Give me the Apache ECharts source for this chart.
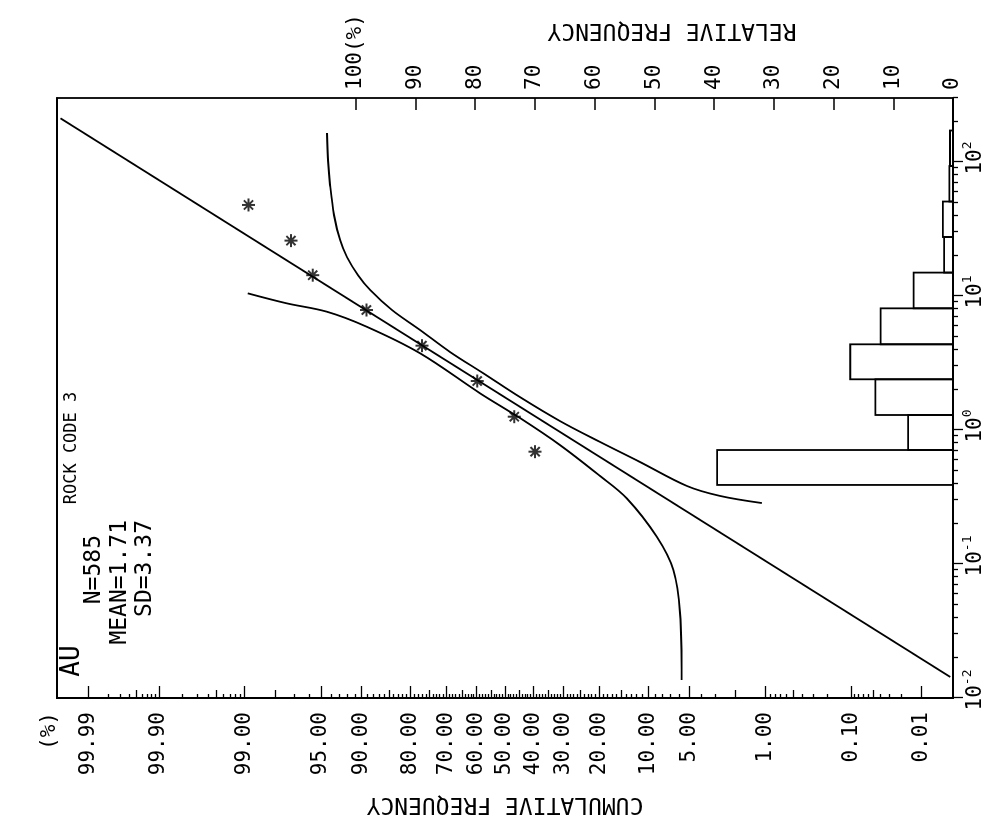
<!DOCTYPE html>
<html><head><meta charset="utf-8">
<script src="https://cdn.jsdelivr.net/npm/echarts@6/dist/echarts.min.js"></script>
<style>
html,body{margin:0;padding:0;background:#fff;overflow:hidden;width:1007px;height:829px;}
#chart{position:absolute;left:89px;top:-89px;width:829px;height:1007px;transform:rotate(-90deg);transform-origin:50% 50%;}
</style></head><body><div id="chart"></div>
<script>
// ---------------- data ----------------
const probLabelValues = [99.99, 99.9, 99, 95, 90, 80, 70, 60, 50, 40, 30, 20, 10, 5, 1, 0.1, 0.01];
const probLabelTexts  = ['99.99','99.90','99.00','95.00','90.00','80.00','70.00','60.00','50.00','40.00','30.00','20.00','10.00','5.00','1.00','0.10','0.01'];
const probMediumTicks = [99.95, 99.5, 98, 85, 75, 65, 55, 45, 35, 25, 15, 2, 0.5, 0.05];
const relLabelValues  = [0, 10, 20, 30, 40, 50, 60, 70, 80, 90, 100];
const relLabelTexts   = ['0','10','20','30','40','50','60','70','80','90','100(%)'];
const logDecades      = [-2, -1, 0, 1, 2];

// histogram: class boundaries (concentration) and relative frequency (%)
const binEdges = [0.389, 0.709, 1.294, 2.39, 4.36, 8.09, 14.95, 27.56, 50.7, 93.3, 171.8];
const binFreq  = [39.5, 7.5, 13.0, 17.2, 12.1, 6.6, 1.5, 1.7, 0.6, 0.5];

// cumulative points (*): upper class boundary, cumulative %
const cumX = [0.689, 1.257, 2.32, 4.26, 7.86, 14.3, 25.9, 47.8];
const cumP = [39.4, 46.7, 59.8, 77.1, 89.2, 95.7, 97.2, 98.9];

// fitted log-normal line  [value, cumulative %]
const fitLine = [[211.8, 99.9964], [0.01435, 0.0035]];

// confidence curves [value, cumulative %]
const upperBand = [[164.6,94.40],[103.5,94.30],[67.4,94.09],[40.2,93.66],[26.2,92.96],[19.5,92.09],[14.3,90.53],[11.1,88.59],[7.86,84.35],[5.58,77.6],[3.82,68.8],[2.66,57.8],[1.76,44.7],[1.167,31.2],[0.814,19.8],[0.577,11.4],[0.382,5.21],[0.322,2.74],[0.285,1.09]];
const lowerBand = [[10.47,98.92],[8.82,97.44],[7.64,94.43],[5.90,89.16],[3.74,77.6],[1.879,58.8],[1.229,44.7],[0.773,31.2],[0.4535,19.8],[0.309,13.85],[0.160,8.78],[0.0902,6.64],[0.0431,5.91],[0.01362,5.73]];

// ---------------- helpers ----------------
function probit(p){
  const a=[-3.969683028665376e+01,2.209460984245205e+02,-2.759285104469687e+02,1.383577518672690e+02,-3.066479806614716e+01,2.506628277459239e+00];
  const b=[-5.447609879822406e+01,1.615858368580409e+02,-1.556989798598866e+02,6.680131188771972e+01,-1.328068155288572e+01];
  const c=[-7.784894002430293e-03,-3.223964580411365e-01,-2.400758277161838e+00,-2.549732539343734e+00,4.374664141464968e+00,2.938163982698783e+00];
  const d=[7.784695709041462e-03,3.224671290700398e-01,2.445134137142996e+00,3.754408661907416e+00];
  const pl=0.02425, ph=1-pl; let q,r;
  if(p<pl){q=Math.sqrt(-2*Math.log(p));return (((((c[0]*q+c[1])*q+c[2])*q+c[3])*q+c[4])*q+c[5])/((((d[0]*q+d[1])*q+d[2])*q+d[3])*q+1);}
  if(p<=ph){q=p-0.5;r=q*q;return (((((a[0]*r+a[1])*r+a[2])*r+a[3])*r+a[4])*r+a[5])*q/(((((b[0]*r+b[1])*r+b[2])*r+b[3])*r+b[4])*r+1);}
  q=Math.sqrt(-2*Math.log(1-p));return -(((((c[0]*q+c[1])*q+c[2])*q+c[3])*q+c[4])*q+c[5])/((((d[0]*q+d[1])*q+d[2])*q+d[3])*q+1);
}
const zp = p => probit(p/100);
const lg = v => Math.log10(v);

// minor ticks of probability paper
const probMinorTicks = [];
[[99.91,99.99,0.01],[99.1,99.9,0.1],[96,97,1],[91,94,1],[11,89,1],[6,9,1],[3,4,1],[0.2,0.9,0.1],[0.02,0.09,0.01]].forEach(([s,e,st])=>{
  for(let v=s; v<=e+st/2; v+=st){
    const r=Math.round(v*100)/100;
    if(probLabelValues.indexOf(r)<0 && probMediumTicks.indexOf(r)<0) probMinorTicks.push(r);
  }
});
const LOGMIN=-2, LOGMAX=2.4776;
const logMinor=[];
for(let n=-2;n<=2;n++){for(let k=2;k<=9;k++){const v=n+Math.log10(k); if(v<LOGMAX) logMinor.push(v);}}

const FONT='"DejaVu Sans Mono", monospace';
const black='#000';
const probZ = probLabelValues.map(zp);

function probAxis(ticks, len, extra){
  return Object.assign({
    type:'value', min:-4, max:4, position:'left', gridIndex:0,
    axisLine:{show:true, onZero:false, lineStyle:{color:black, width:1.8}},
    axisTick:{show:true, inside:true, length:len, customValues:ticks.map(zp), lineStyle:{color:black, width:1.3}},
    axisLabel:{show:false}, splitLine:{show:false}
  }, extra||{});
}

const option = {
  animation:false,
  backgroundColor:'#fff',
  grid:{left:131, top:57, width:600, height:896, containLabel:false, outerBoundsMode:'none'},
  xAxis:[
    {type:'value', min:LOGMIN, max:LOGMAX, position:'bottom',
     axisLine:{show:true, onZero:false, lineStyle:{color:black, width:1.8}},
     axisTick:{show:true, inside:false, length:10, customValues:logDecades, lineStyle:{color:black, width:1.3}},
     axisLabel:{show:true, customValues:logDecades, margin:8, color:black,
       formatter:v=>{const e=String(Math.round(v)); return '{p'+e.length+'| }{n|10}{s|'+e+'}';},
       rich:{n:{fontFamily:FONT, fontSize:21, color:black, lineHeight:30},
             s:{fontFamily:FONT, fontSize:13, color:black, verticalAlign:'top', lineHeight:14},
             p1:{width:8, fontSize:13, lineHeight:14}, p2:{width:16, fontSize:13, lineHeight:14}}},
     splitLine:{show:false}},
    {type:'value', min:LOGMIN, max:LOGMAX, position:'bottom',
     axisLine:{show:false, onZero:false},
     axisTick:{show:true, inside:false, length:5, customValues:logMinor, lineStyle:{color:black, width:1.3}},
     axisLabel:{show:false}, splitLine:{show:false}},
    {type:'value', min:LOGMIN, max:LOGMAX, position:'top',
     axisLine:{show:true, onZero:false, lineStyle:{color:black, width:1.8}},
     axisTick:{show:false}, axisLabel:{show:false}, splitLine:{show:false}}
  ],
  yAxis:[
    probAxis(probLabelValues, 12, {
      axisLabel:{show:true, customValues:probZ, margin:14, color:black, fontFamily:FONT, fontSize:21,
        formatter:v=>{let bi=0,bd=1e9; probZ.forEach((z,i)=>{const d=Math.abs(z-v); if(d<bd){bd=d;bi=i;}}); return probLabelTexts[bi];}},
      name:'CUMULATIVE FREQUENCY', nameLocation:'middle', nameRotate:90, nameGap:94,
      nameTextStyle:{fontFamily:FONT, fontSize:23, color:black}
    }),
    probAxis(probMediumTicks, 8),
    probAxis(probMinorTicks, 4),
    {type:'value', min:0, max:150, position:'right',
     axisLine:{show:true, onZero:false, lineStyle:{color:black, width:1.8}},
     axisTick:{show:true, inside:true, length:12, customValues:relLabelValues, lineStyle:{color:black, width:1.5}},
     axisLabel:{show:true, customValues:relLabelValues, margin:8, color:black, fontFamily:FONT, fontSize:21,
       formatter:v=>relLabelTexts[relLabelValues.indexOf(Math.round(v))]},
     splitLine:{show:false}}
  ],
  graphic:[
    {type:'text', x:168, y:72, style:{text:'AU', font:'26px '+FONT, fill:black, align:'center', verticalAlign:'middle', textAlign:'center', textVerticalAlign:'middle'}},
    {type:'text', x:381, y:72, style:{text:'ROCK CODE 3', font:'17px '+FONT, fill:black, align:'center', verticalAlign:'middle', textAlign:'center', textVerticalAlign:'middle'}},
    {type:'text', x:294, y:94, style:{text:'N=585', font:'23px '+FONT, fill:black, align:'right', verticalAlign:'middle', textAlign:'right', textVerticalAlign:'middle'}},
    {type:'text', x:309, y:120, style:{text:'MEAN=1.71', font:'23px '+FONT, fill:black, align:'right', verticalAlign:'middle', textAlign:'right', textVerticalAlign:'middle'}},
    {type:'text', x:309, y:145, style:{text:'SD=3.37', font:'23px '+FONT, fill:black, align:'right', verticalAlign:'middle', textAlign:'right', textVerticalAlign:'middle'}},
    {type:'text', x:117, y:50, style:{text:'(%)', font:'21px '+FONT, fill:black, align:'right', verticalAlign:'middle', textAlign:'right', textVerticalAlign:'middle'}},
    {type:'text', x:799, y:672, rotation:Math.PI/2, style:{text:'RELATIVE FREQUENCY', font:'23px '+FONT, fill:black, align:'center', verticalAlign:'middle', textAlign:'center', textVerticalAlign:'middle'}}
  ],
  series:[
    {type:'custom', name:'relative frequency', xAxisIndex:0, yAxisIndex:3,
     encode:{x:[0,1], y:2},
     data: binFreq.map((f,i)=>[lg(binEdges[i]), lg(binEdges[i+1]), f]),
     renderItem:(params, api)=>{
       const p0=api.coord([api.value(0),0]), p1=api.coord([api.value(1),api.value(2)]);
       return {type:'rect', shape:{x:p0[0], y:p1[1], width:p1[0]-p0[0], height:p0[1]-p1[1]},
               style:{fill:'none', stroke:black, lineWidth:1.8}};
     }, z:1},
    {type:'line', name:'fit', xAxisIndex:0, yAxisIndex:0, symbol:'none',
     data: fitLine.map(d=>[lg(d[0]), zp(d[1])]), lineStyle:{color:black, width:1.8}, z:3},
    {type:'line', name:'upper', xAxisIndex:0, yAxisIndex:0, symbol:'none', smooth:0.35,
     data: upperBand.map(d=>[lg(d[0]), zp(d[1])]), lineStyle:{color:black, width:1.8}, z:3},
    {type:'line', name:'lower', xAxisIndex:0, yAxisIndex:0, symbol:'none', smooth:0.35,
     data: lowerBand.map(d=>[lg(d[0]), zp(d[1])]), lineStyle:{color:black, width:1.8}, z:3},
    {type:'scatter', name:'cumulative', xAxisIndex:0, yAxisIndex:0,
     symbol:'path://M12 0L12 24M0 12L24 12M3.5 3.5L20.5 20.5M3.5 20.5L20.5 3.5', symbolSize:13,
     itemStyle:{color:'rgba(0,0,0,0)', borderColor:black, borderWidth:2},
     data: cumX.map((x,i)=>[lg(x), zp(cumP[i])]), z:4}
  ]
};
const chart = echarts.init(document.getElementById('chart'), null, {renderer:'canvas'});
chart.setOption(option);
</script></body></html>
